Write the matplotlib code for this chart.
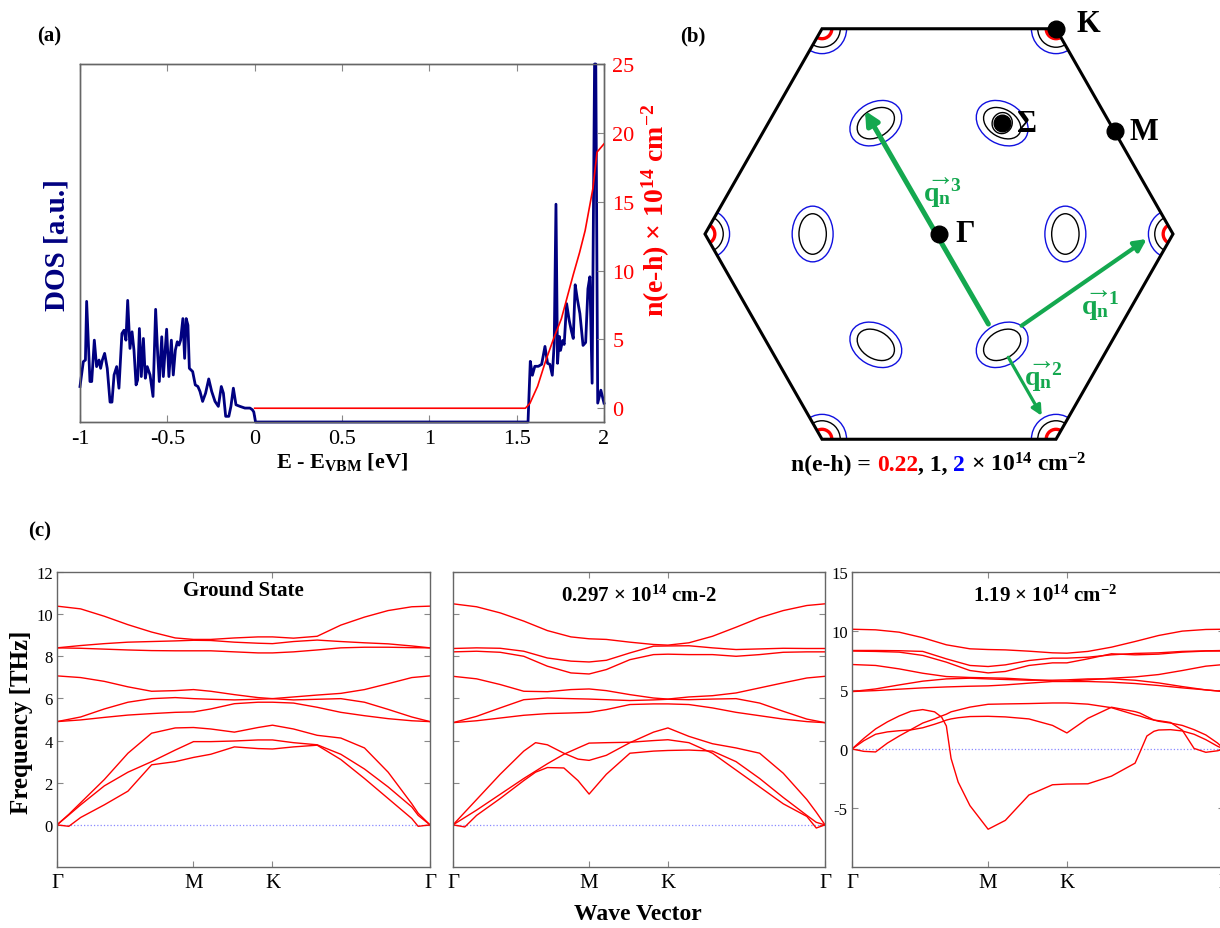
import numpy as np
import matplotlib
matplotlib.use('Agg')
import matplotlib.pyplot as plt
from matplotlib.patches import Polygon, Ellipse, Circle, FancyArrowPatch

plt.rcParams['font.family'] = ['Liberation Serif', 'DejaVu Serif']
plt.rcParams['mathtext.fontset'] = 'custom'
plt.rcParams['mathtext.rm'] = 'Liberation Serif'
plt.rcParams['mathtext.bf'] = 'Liberation Serif:bold'
plt.rcParams['mathtext.it'] = 'Liberation Serif:italic'
plt.rcParams['axes.unicode_minus'] = False

# ---------------- data: panel (a) ----------------
dos_E = [-1.0, -0.981, -0.969, -0.962, -0.943, -0.933, -0.918, -0.905, -0.891, -0.882,
         -0.872, -0.859, -0.844, -0.828, -0.817, -0.805, -0.790, -0.777, -0.760, -0.748,
         -0.737, -0.727, -0.714, -0.702, -0.691, -0.679, -0.670, -0.660, -0.649, -0.637,
         -0.626, -0.615, -0.599, -0.582, -0.567, -0.555, -0.546, -0.532, -0.523, -0.504,
         -0.491, -0.477, -0.466, -0.454, -0.443, -0.433, -0.424, -0.411, -0.401, -0.392,
         -0.382, -0.374, -0.355, -0.340, -0.325, -0.313, -0.298, -0.281, -0.263, -0.246,
         -0.227, -0.208, -0.191, -0.179, -0.166, -0.148, -0.136, -0.122, -0.107, -0.084,
         -0.056, -0.027, -0.013, -0.005, 0.005,
         1.55, 1.565, 1.578, 1.59, 1.604, 1.624, 1.643, 1.662, 1.677, 1.69, 1.704, 1.715,
         1.725, 1.734, 1.744, 1.751, 1.763, 1.772, 1.786, 1.801, 1.814, 1.824, 1.835, 1.847,
         1.862, 1.88, 1.895, 1.908, 1.919, 1.932, 1.946, 1.953, 1.964, 1.982, 2.0]
dos_V = [3.57, 6.07, 6.23, 12.13, 4.07, 4.07, 8.23, 5.57, 6.23, 5.4,
         6.23, 6.9, 5.4, 2.0, 2.0, 4.73, 5.57, 3.4, 8.9, 9.23,
         8.23, 12.23, 7.4, 9.07, 7.23, 3.73, 4.23, 9.4, 4.57, 8.4,
         4.4, 5.57, 4.73, 2.57, 11.33, 6.73, 4.07, 8.57, 4.57, 9.33,
         4.57, 8.23, 4.73, 7.23, 8.07, 7.73, 8.23, 10.4, 6.4, 10.4,
         9.73, 5.4, 5.07, 3.73, 3.57, 3.07, 2.07, 2.9, 4.33, 3.07,
         2.07, 1.57, 3.57, 2.9, 0.57, 0.57, 1.57, 3.4, 1.73, 1.57,
         1.4, 1.4, 1.23, 1.0, 0.0,
         0.0, 0.0, 6.1, 4.7, 5.6, 5.6, 5.8, 7.6, 5.9, 5.8, 4.7, 7.9,
         21.9, 5.9, 8.6, 7.2, 8.2, 7.8, 11.9, 10.2, 9.1, 8.4, 13.8, 12.4,
         10.9, 7.7, 8.0, 13.4, 14.6, 3.9, 36.0, 36.0, 1.9, 3.2, 1.9]
neh_E = [0, 1.55, 1.576, 1.62, 1.665, 1.71, 1.756, 1.79, 1.824, 1.86, 1.892, 1.937, 1.96, 1.98, 2.0]
neh_n = [0, 0, 0.36, 1.6, 3.4, 5.0, 6.5, 8.1, 9.7, 11.3, 12.9, 16.0, 18.6, 18.9, 19.2]
a_xticks = [-1, -0.5, 0, 0.5, 1, 1.5, 2]
a_xticklabels = ['-1', '-0.5', '0', '0.5', '1', '1.5', '2']
a_rticks = [0, 5, 10, 15, 20, 25]

# ---------------- data: panel (b) (BZ in units of Gamma-K) ----------------
pocket_dist = 0.54
pocket_angles = [0, 60, 120, 180, 240, 300]
pocket_inner = (0.117, 0.171)      # black contour (radial, tangential)
pocket_outer = (0.175, 0.235)      # blue contour
sigma_core = (0.09, 0.085)
corner_radii = {'red': 0.042, 'black': 0.078, 'blue': 0.105}
hs_points = {'Γ': (0.0, 0.0), 'K': (0.5, 0.866), 'M': (0.75, 0.433), 'Σ': (0.27, 0.468)}
q_arrows = {'3': ((0.211, -0.380), (-0.316, 0.520), 3.6, 20),
            '1': ((0.353, -0.387), (0.888, -0.021), 3.0, 18),
            '2': ((0.296, -0.520), (0.439, -0.767), 2.3, 15)}
q_label_pos = {'3': (0.015, 0.175), '1': (0.69, -0.30), '2': (0.445, -0.60)}

# ---------------- data: panel (c) phonons ----------------
path_ticks = [0, 0.577, 0.911, 1.577]
path_labels = ['Γ', 'M', 'K', 'Γ']
QO = [0, 0.1, 0.2, 0.3, 0.4, 0.5, 0.577, 0.65, 0.75, 0.85, 0.911, 1.0, 1.1, 1.2, 1.3, 1.4, 1.5, 1.577]

gs_opt = [
    [10.38, 10.25, 9.9, 9.5, 9.15, 8.87, 8.8, 8.8, 8.87, 8.92, 8.92, 8.86, 8.95, 9.48, 9.86, 10.17, 10.35, 10.38],
    [8.4, 8.51, 8.6, 8.67, 8.7, 8.73, 8.76, 8.75, 8.67, 8.62, 8.6, 8.7, 8.77, 8.7, 8.64, 8.59, 8.49, 8.4],
    [8.4, 8.38, 8.34, 8.3, 8.27, 8.26, 8.26, 8.26, 8.21, 8.16, 8.16, 8.21, 8.3, 8.4, 8.43, 8.43, 8.41, 8.4],
    [7.07, 6.99, 6.81, 6.55, 6.34, 6.37, 6.42, 6.34, 6.18, 6.04, 5.99, 6.07, 6.16, 6.24, 6.42, 6.7, 6.99, 7.07],
    [4.9, 5.12, 5.5, 5.82, 5.99, 6.04, 5.99, 5.96, 5.93, 5.96, 5.99, 5.93, 5.96, 5.99, 5.82, 5.48, 5.12, 4.9],
    [4.9, 4.98, 5.1, 5.21, 5.28, 5.34, 5.36, 5.5, 5.75, 5.82, 5.82, 5.78, 5.58, 5.34, 5.18, 5.04, 4.94, 4.9],
]
QA1 = [0, 0.05, 0.1, 0.2, 0.3, 0.4, 0.5, 0.577, 0.65, 0.75, 0.85, 0.911, 1.0, 1.1, 1.2, 1.3, 1.4, 1.5, 1.527, 1.577]
gs_ac = [
    [0, 0.5, 1.05, 2.15, 3.4, 4.35, 4.6, 4.62, 4.55, 4.4, 4.62, 4.73, 4.55, 4.25, 4.12, 3.65, 2.5, 1.0, 0.55, 0],
    [0, 0.47, 0.95, 1.85, 2.5, 3.0, 3.55, 3.95, 3.95, 3.98, 4.03, 4.03, 3.9, 3.8, 3.35, 2.65, 1.8, 0.85, 0.45, 0],
    [0, -0.07, 0.35, 0.95, 1.6, 2.85, 3.0, 3.2, 3.35, 3.7, 3.62, 3.6, 3.7, 3.78, 3.1, 2.2, 1.25, 0.3, -0.07, 0],
]

p2_opt = [
    [10.49, 10.35, 10.06, 9.67, 9.22, 8.92, 8.83, 8.8, 8.67, 8.56, 8.53, 8.64, 8.95, 9.38, 9.83, 10.17, 10.41, 10.49],
    [8.37, 8.4, 8.38, 8.24, 7.92, 7.77, 7.73, 7.81, 8.16, 8.48, 8.49, 8.5, 8.4, 8.32, 8.35, 8.38, 8.37, 8.37],
    [8.21, 8.24, 8.19, 8.0, 7.53, 7.21, 7.16, 7.37, 7.84, 8.08, 8.1, 8.08, 8.08, 8.0, 8.08, 8.19, 8.21, 8.21],
    [7.05, 6.93, 6.66, 6.34, 6.32, 6.42, 6.45, 6.37, 6.18, 6.02, 5.97, 6.07, 6.13, 6.26, 6.5, 6.74, 6.97, 7.05],
    [4.85, 5.15, 5.55, 5.94, 6.02, 5.99, 5.97, 5.94, 5.9, 5.93, 5.96, 5.94, 5.97, 5.99, 5.78, 5.39, 5.02, 4.85],
    [4.85, 4.94, 5.07, 5.2, 5.28, 5.31, 5.34, 5.47, 5.71, 5.74, 5.74, 5.71, 5.55, 5.34, 5.18, 5.02, 4.9, 4.85],
]
QA2 = [0, 0.05, 0.1, 0.2, 0.3, 0.35, 0.4, 0.47, 0.53, 0.577, 0.65, 0.75, 0.85, 0.911, 1.0, 1.1, 1.2, 1.3, 1.4, 1.5, 1.54, 1.577]
p2_ac = [
    [0, 0.6, 1.2, 2.4, 3.5, 3.9, 3.8, 3.4, 3.12, 3.06, 3.3, 3.9, 4.4, 4.6, 4.2, 3.85, 3.65, 3.4, 2.45, 1.2, 0.6, 0],
    [0, 0.35, 0.7, 1.45, 2.2, 2.55, 2.9, 3.35, 3.65, 3.88, 3.9, 3.92, 4.0, 4.04, 3.9, 3.4, 2.6, 1.8, 1.0, 0.4, -0.15, 0],
    [0, -0.1, 0.45, 1.25, 2.1, 2.5, 2.72, 2.7, 2.1, 1.46, 2.4, 3.4, 3.5, 3.53, 3.55, 3.5, 3.0, 2.2, 1.3, 0.45, 0.12, 0],
]

p3_opt = [
    [10.15, 10.1, 9.9, 9.43, 8.83, 8.49, 8.43, 8.4, 8.29, 8.15, 8.12, 8.27, 8.63, 9.11, 9.62, 9.99, 10.13, 10.15],
    [8.35, 8.35, 8.33, 8.27, 7.64, 7.08, 6.99, 7.13, 7.5, 7.7, 7.7, 7.78, 7.98, 8.1, 8.15, 8.27, 8.32, 8.35],
    [8.3, 8.27, 8.21, 7.93, 7.36, 6.65, 6.45, 6.57, 7.08, 7.3, 7.3, 7.64, 8.07, 7.98, 8.04, 8.21, 8.3, 8.3],
    [7.16, 7.08, 6.79, 6.42, 6.14, 6.06, 6.03, 6.0, 5.89, 5.77, 5.75, 5.86, 6.0, 6.11, 6.31, 6.65, 7.02, 7.16],
    [4.87, 5.09, 5.43, 5.75, 5.94, 6.0, 5.94, 5.89, 5.83, 5.83, 5.86, 5.94, 5.94, 5.83, 5.6, 5.29, 5.01, 4.87],
    [4.87, 4.95, 5.07, 5.18, 5.26, 5.32, 5.35, 5.43, 5.58, 5.72, 5.72, 5.72, 5.66, 5.55, 5.38, 5.18, 5.01, 4.87],
]
QA3 = [0, 0.05, 0.1, 0.15, 0.2, 0.25, 0.3, 0.35, 0.38, 0.4, 0.42, 0.45, 0.5, 0.577, 0.65, 0.75,
       0.85, 0.911, 1.0, 1.1, 1.2, 1.22, 1.25, 1.28, 1.3, 1.35, 1.4, 1.45, 1.5, 1.55, 1.577]
p3_ac = [
    [0, 0.9, 1.7, 2.3, 2.8, 3.2, 3.34, 3.15, 2.7, 1.95, -0.8, -2.8, -4.8, -6.8, -6.05, -3.9,
     -3.03, -2.97, -2.95, -2.3, -1.2, -0.3, 1.1, 1.5, 1.61, 1.64, 1.53, 1.25, 0.79, 0.23, 0],
    [0, 0.7, 1.25, 1.45, 1.55, 1.62, 1.8, 2.1, 2.3, 2.45, 2.55, 2.65, 2.75, 2.77, 2.72, 2.55,
     2.0, 1.36, 2.6, 3.54, 3.17, 3.05, 2.75, 2.46, 2.35, 2.2, 2.0, 1.64, 1.19, 0.5, 0],
    [0, -0.2, -0.25, 0.5, 1.1, 1.65, 2.2, 2.55, 2.8, 2.95, 3.15, 3.3, 3.55, 3.79, 3.82, 3.85,
     3.9, 3.9, 3.8, 3.5, 2.9, 2.8, 2.6, 2.45, 2.4, 2.25, 1.6, 0.05, -0.28, -0.15, 0],
]

panels_c = [
    dict(opt=gs_opt, qa=QA1, ac=gs_ac, ylim=(-2, 12), yticks=[0, 2, 4, 6, 8, 10, 12], ylabels=True,
         title='Ground State', tpos=(0.5, 0.94)),
    dict(opt=p2_opt, qa=QA2, ac=p2_ac, ylim=(-2, 12), yticks=[0, 2, 4, 6, 8, 10, 12], ylabels=False,
         title=r'0.297 × 10$^{\mathbf{14}}$ cm-2', tpos=(0.5, 0.92)),
    dict(opt=p3_opt, qa=QA3, ac=p3_ac, ylim=(-10, 15), yticks=[-5, 0, 5, 10, 15], ylabels=True,
         title=r'1.19 × 10$^{\mathbf{14}}$ cm$^{\mathbf{-2}}$', tpos=(0.52, 0.92)),
]

# ---------------- figure ----------------
W, H = 1220, 929
fig = plt.figure(figsize=(W / 100, H / 100), dpi=100)
SP = '#666666'


def box(l, t, r, b):
    return [l / W, 1 - b / H, (r - l) / W, (b - t) / H]


def fx(x):
    return x / W


def fy(y):
    return 1 - y / H


# ---- panel (a)
ax_a = fig.add_axes(box(80, 65, 604, 423))
ax_a.plot(dos_E, dos_V, color='#000080', lw=2.0, clip_on=False, zorder=3)
ax_a.set_xlim(-1, 2)
ax_a.set_ylim(0, 36)
ax_a.set_yticks([])
ax_a.set_xticks(a_xticks)
ax_a.set_xticklabels(a_xticklabels)
ax_a.tick_params(axis='x', direction='in', top=True, labelsize=16, length=5, color='#888888', pad=5)
for s in ax_a.spines.values():
    s.set_color(SP)
    s.set_linewidth(1.0)
ax_n = ax_a.twinx()
ax_n.plot(neh_E, neh_n, color='red', lw=1.2, zorder=4)
ax_n.set_ylim(-1, 25)
ax_n.set_yticks(a_rticks)
ax_n.tick_params(axis='y', direction='in', labelsize=16, labelcolor='red', length=5, color='#888888', pad=6)
for s in ax_n.spines.values():
    s.set_color(SP)
    s.set_linewidth(1.0)

fig.text(fx(49), fy(36), '(a)', fontsize=15, fontweight='bold', ha='center', va='center')
fig.text(fx(57), fy(245), 'DOS [a.u.]', fontsize=21, fontweight='bold', color='#000080',
         rotation=90, ha='center', va='center')
fig.text(fx(342), fy(462), r'E - E$_{\mathbf{VBM}}$ [eV]', fontsize=16, fontweight='bold',
         ha='center', va='center')
fig.text(fx(656), fy(210), r'n(e-h) × 10$^{\mathbf{14}}$ cm$^{\mathbf{-2}}$', fontsize=20,
         fontweight='bold', color='red', rotation=90, ha='center', va='center')

# ---- panel (b)
ax_b = fig.add_axes(box(690, 0, 1220, 480))
ax_b.axis('off')
cx, cy, sx, sy = 939, 235, 234, 237
ax_b.set_xlim((690 - cx) / sx, (1220 - cx) / sx)
ax_b.set_ylim(-(480 - cy) / sy, cy / sy)
verts = [(np.cos(np.radians(a)), np.sin(np.radians(a))) for a in range(0, 360, 60)]
hexa = Polygon(verts, closed=True, fill=False, ec='black', lw=2.2, zorder=5)
ax_b.add_patch(hexa)
for ang in pocket_angles:
    c = (pocket_dist * np.cos(np.radians(ang)), pocket_dist * np.sin(np.radians(ang)))
    ax_b.add_patch(Ellipse(c, pocket_outer[0], pocket_outer[1], angle=ang, fill=False,
                           ec='#1010e0', lw=1.0))
    ax_b.add_patch(Ellipse(c, pocket_inner[0], pocket_inner[1], angle=ang, fill=False,
                           ec='black', lw=1.0))
ax_b.add_patch(Ellipse(hs_points['Σ'], sigma_core[0], sigma_core[1], angle=60, fill=False,
                       ec='black', lw=1.0))
for v in verts:
    for col, lw in (('blue', 1.0), ('black', 1.0), ('red', 2.4)):
        circ = Circle(v, corner_radii[col], fill=False,
                      ec={'blue': '#1010e0', 'black': 'black', 'red': 'red'}[col], lw=lw)
        ax_b.add_patch(circ)
        circ.set_clip_path(hexa)

q_green = '#14a84f'
for key, (tail, head, lw, ms) in q_arrows.items():
    ax_b.add_patch(FancyArrowPatch(tail, head, arrowstyle='-|>', mutation_scale=ms,
                                   color=q_green, lw=lw, shrinkA=0, shrinkB=0, zorder=6))
    ax_b.text(*q_label_pos[key], r'$\overrightarrow{\mathbf{q_n}}^{\mathbf{' + key + '}}$',
              color=q_green, fontsize=20, ha='center', va='center', zorder=7)

offsets = {'Γ': (19, 0), 'K': (23, 4), 'M': (21, 0), 'Σ': (18, 0)}
for name, p in hs_points.items():
    ax_b.plot(*p, 'o', color='black', ms=12, zorder=8, clip_on=False)
    ax_b.annotate(name, p, xytext=offsets[name], textcoords='offset points', fontsize=22,
                  fontweight='bold', ha='center', va='center', zorder=9)

fig.text(fx(693), fy(36), '(b)', fontsize=15, fontweight='bold', ha='center', va='center')

# coloured caption under the Brillouin zone
renderer = fig.canvas.get_renderer()
cap_parts = [('n(e-h) =', 'black'), (' 0.22', 'red'), (', 1,', 'black'), (' 2', 'blue'),
             (r' × 10$^{\mathbf{14}}$ cm$^{\mathbf{-2}}$', 'black')]
cap_kw = dict(fontsize=17, fontweight='bold', va='baseline', ha='left')


def twidth(s):
    t = fig.text(0, 0, s, **cap_kw)
    w = t.get_window_extent(renderer).width
    t.remove()
    return w


full = ''.join(p for p, _ in cap_parts)
total_w = twidth(full)
x_left = 939 - total_w / 2
acc = ''
for s, col in cap_parts:
    acc += s
    xr = x_left + twidth(acc)
    stripped = s.lstrip()
    fig.text(fx(xr - twidth(stripped)), fy(471), stripped, color=col, **cap_kw)

# ---- panel (c)
boxes_c = [box(57, 573, 430, 868), box(453, 573, 825, 868), box(852, 573, 1224, 868)]
for b, P in zip(boxes_c, panels_c):
    ax = fig.add_axes(b)
    ax.axhline(0, color='#8888ff', ls=':', lw=0.9, zorder=1)
    for br in P['opt']:
        ax.plot(QO, br, color='red', lw=1.0, zorder=2)
    for br in P['ac']:
        ax.plot(P['qa'], br, color='red', lw=1.0, zorder=2)
    ax.set_xlim(0, 1.577)
    ax.set_ylim(*P['ylim'])
    ax.set_xticks(path_ticks)
    ax.set_xticklabels(path_labels)
    ax.set_yticks(P['yticks'])
    if not P['ylabels']:
        ax.set_yticklabels([])
    ax.tick_params(axis='both', direction='in', top=True, right=True, length=4, color='#888888')
    ax.tick_params(axis='y', labelsize=12, pad=3)
    ax.tick_params(axis='x', labelsize=15, pad=4)
    for s in ax.spines.values():
        s.set_color(SP)
        s.set_linewidth(1.0)
    ax.text(*P['tpos'], P['title'], transform=ax.transAxes, fontsize=15, fontweight='bold',
            ha='center', va='center')

fig.text(fx(40), fy(531), '(c)', fontsize=15, fontweight='bold', ha='center', va='center')
fig.text(fx(22), fy(722), 'Frequency [THz]', fontsize=18, fontweight='bold', rotation=90,
         ha='center', va='center')
fig.text(fx(638), fy(915), 'Wave Vector', fontsize=17, fontweight='bold', ha='center', va='center')

fig.savefig('out.png', dpi=100)
